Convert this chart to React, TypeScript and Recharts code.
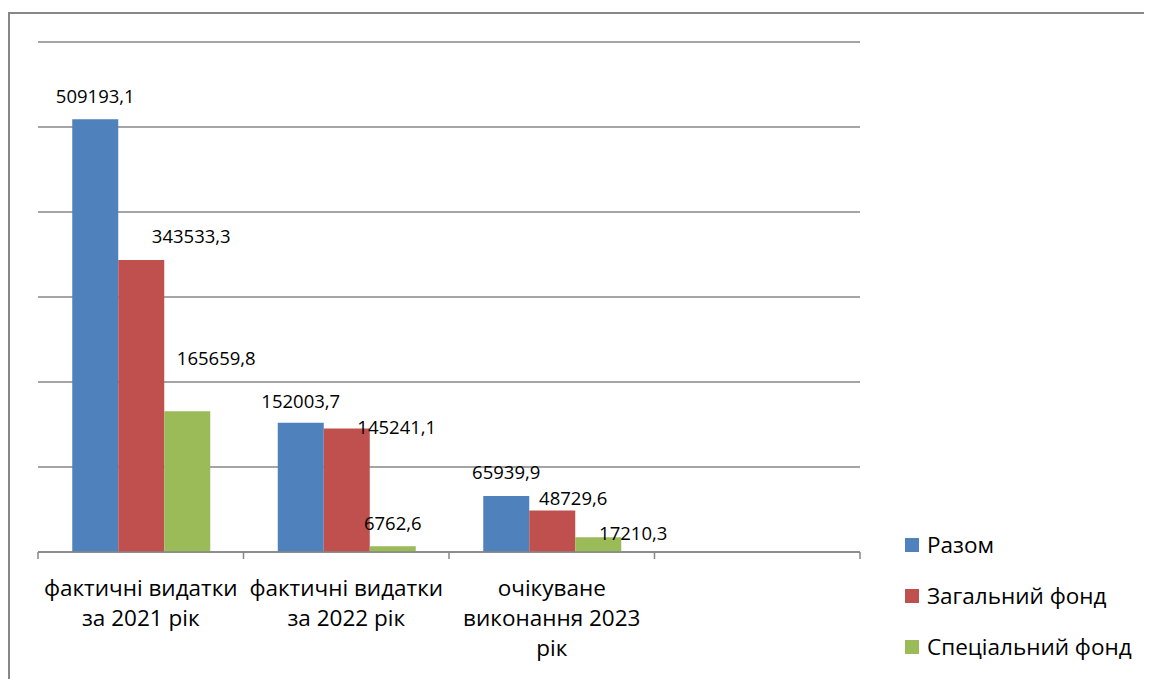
import { BarChart, Bar, XAxis, YAxis, CartesianGrid, Legend, LabelList } from "recharts";

const categories = [
  "фактичні видатки за 2021 рік",
  "фактичні видатки за 2022 рік",
  "очікуване виконання 2023 рік",
  "",
];
const razom = [509193.1, 152003.7, 65939.9, null];
const zahalnyi = [343533.3, 145241.1, 48729.6, null];
const spetsialnyi = [165659.8, 6762.6, 17210.3, null];
const yTicks = [0, 100000, 200000, 300000, 400000, 500000, 600000];

const series = [
  { key: "razom", name: "Разом", color: "#4f81bd" },
  { key: "zahalnyi", name: "Загальний фонд", color: "#c0504d" },
  { key: "spetsialnyi", name: "Спеціальний фонд", color: "#9bbb59" },
];

// hand-placed label nudges, as in the original chart
const labelNudge: Record<string, [number, number][]> = {
  razom: [[0, 0], [0, 2], [0, 0]],
  zahalnyi: [[50, 0], [50, 22], [21, 11]],
  spetsialnyi: [[29, -30], [0, 0], [35, 19]],
};

const data = categories.map((name, i) => ({
  name,
  razom: razom[i],
  zahalnyi: zahalnyi[i],
  spetsialnyi: spetsialnyi[i],
}));

const FONT = "'Open Sans', 'Noto Sans', sans-serif";
const CHART_W = 1142;
const CHART_H = 665;
const LEGEND_W = 250;
const MARGIN = { top: 28, right: 292 - LEGEND_W, bottom: 27, left: 28 };
const BAND = (CHART_W - 28 - 292) / categories.length;
const AXIS_COLOR = "#878787";

function fmt(v: number) {
  return v.toFixed(1).replace(".", ",");
}

function wrap(label: string, max = 16) {
  const lines: string[] = [];
  let cur = "";
  for (const w of label.split(" ")) {
    const next = cur ? cur + " " + w : w;
    if (next.length > max && cur) {
      lines.push(cur);
      cur = w;
    } else cur = next;
  }
  if (cur) lines.push(cur);
  return lines;
}

function CategoryTick(props: any) {
  const { x, y, payload, index } = props;
  const lines = wrap(String(payload?.value ?? ""));
  const last = index === categories.length - 1;
  return (
    <g>
      <line x1={x - BAND / 2} x2={x - BAND / 2} y1={y} y2={y + 7} stroke={AXIS_COLOR} strokeWidth={1.5} />
      {last && <line x1={x + BAND / 2} x2={x + BAND / 2} y1={y} y2={y + 7} stroke={AXIS_COLOR} strokeWidth={1.5} />}
      <text x={x} y={y + 44} textAnchor="middle" fill="#000" fontSize={22.5} fontFamily={FONT}>
        {lines.map((l, i) => (
          <tspan key={i} x={x} dy={i === 0 ? 0 : 30}>
            {l}
          </tspan>
        ))}
      </text>
    </g>
  );
}

function makeLabel(key: string) {
  return (props: any) => {
    const { x, y, width, value, index } = props;
    if (value == null) return null;
    const [dx, dy] = labelNudge[key][index] ?? [0, 0];
    return (
      <text
        x={x + width / 2 + dx}
        y={y - 24 + dy}
        textAnchor="middle"
        dominantBaseline="central"
        fontSize={18.5}
        fontFamily={FONT}
        fill="#000"
      >
        {fmt(value)}
      </text>
    );
  };
}

function LegendBox() {
  return (
    <div style={{ fontFamily: FONT, fontSize: 22.5, color: "#000" }}>
      {series.map((s) => (
        <div key={s.key} style={{ display: "flex", alignItems: "center", height: 51 }}>
          <span style={{ width: 14, height: 14, background: s.color, marginRight: 8, display: "inline-block" }} />
          <span>{s.name}</span>
        </div>
      ))}
    </div>
  );
}

export default function App() {
  return (
    <div
      style={{
        marginTop: 4,
        width: 1144,
        height: 667,
        borderTop: `2px solid ${AXIS_COLOR}`,
        borderLeft: `2px solid ${AXIS_COLOR}`,
        background: "#fff",
        overflow: "hidden",
      }}
    >
      <BarChart
        width={CHART_W}
        height={CHART_H}
        data={data}
        margin={MARGIN}
        barCategoryGap="16.67%"
        barGap={0}
      >
        <CartesianGrid vertical={false} stroke={AXIS_COLOR} strokeWidth={1.5} />
        <YAxis hide domain={[0, 600000]} ticks={yTicks} />
        <XAxis
          dataKey="name"
          interval={0}
          height={100}
          tickSize={0}
          tickMargin={0}
          tickLine={false}
          axisLine={{ stroke: AXIS_COLOR, strokeWidth: 1.5 }}
          tick={<CategoryTick />}
        />
        <Legend
          layout="vertical"
          align="right"
          verticalAlign="top"
          content={<LegendBox />}
          wrapperStyle={{ left: 895, top: 505, width: LEGEND_W }}
        />
        {series.map((s) => (
          <Bar key={s.key} dataKey={s.key} name={s.name} fill={s.color} isAnimationActive={false}>
            <LabelList dataKey={s.key} content={makeLabel(s.key)} />
          </Bar>
        ))}
      </BarChart>
    </div>
  );
}
